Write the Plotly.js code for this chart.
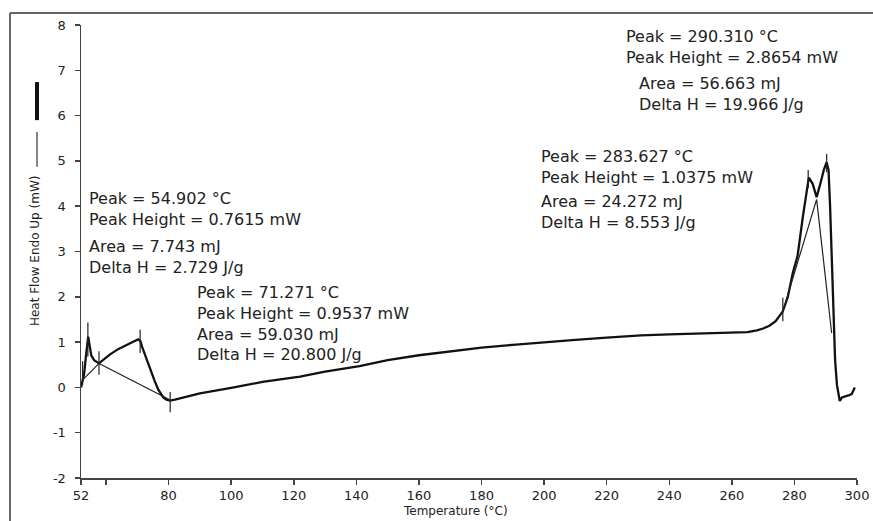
<!DOCTYPE html>
<html>
<head>
<meta charset="utf-8">
<script src="https://cdn.plot.ly/plotly-3.0.1.min.js"></script>
<style>
  html, body { margin: 0; padding: 0; background: #fff; }
  #chart { width: 873px; height: 521px; }
</style>
</head>
<body>
<div id="chart"></div>
<script>
// ---- DSC curve (Temperature °C vs Heat Flow mW) ----
const temperature = [
  52.0, 52.5, 53.0, 53.6, 54.0, 54.3, 54.7, 55.3, 56.2, 57.1, 57.75, 59.0, 61.3, 64.0, 66.7, 69.0, 70.3, 71.0,
  71.5, 72.8, 74.1, 75.5, 76.7, 77.6, 78.3, 79.3, 80.5, 82, 90, 100, 110, 122, 130, 141, 150, 160, 170,
  180, 190, 200, 210, 220, 231, 240, 250, 260, 265, 268, 270, 272, 274, 276.3, 277.9, 279.5, 281.0,
  282.7, 283.8, 284.6, 285.8, 287.1, 288.3, 289.4, 290.3, 290.9, 291.4, 291.9, 292.4, 293.0, 293.6,
  294.5, 295.2, 296.5, 297.5, 298.3, 299.0, 299.3
];
const heatFlow = [
  0.0, 0.15, 0.3, 0.7, 1.0, 1.12, 0.95, 0.7, 0.6, 0.55, 0.53, 0.6, 0.73, 0.85, 0.95, 1.02, 1.06, 1.02,
  0.9, 0.65, 0.4, 0.15, -0.05, -0.15, -0.22, -0.27, -0.29, -0.27, -0.13, -0.01, 0.12, 0.24, 0.35, 0.47, 0.6, 0.71, 0.8,
  0.88, 0.94, 1.0, 1.05, 1.1, 1.15, 1.17, 1.19, 1.2, 1.22, 1.26, 1.3, 1.36, 1.46, 1.68, 2.0, 2.53, 2.9,
  3.77, 4.3, 4.63, 4.5, 4.2, 4.5, 4.8, 4.97, 4.8, 4.0, 2.9, 1.6, 0.6, 0.05,
  -0.3, -0.22, -0.2, -0.17, -0.15, -0.05, 0.0
];

// ---- integration baselines ----
const baselineT = [52.3, 57.75, 80.5, null, 276.3, 287.1, 291.9];
const baselineHF = [0.15, 0.53, -0.28, null, 1.68, 4.15, 1.2];

// ---- integration limit / peak markers ----
const limitT = [52.5, 54.2, 57.75, 70.9, 80.5, 276.3, 284.4, 290.3];
const limitLow = [0.05, 0.68, 0.28, 0.76, -0.55, 1.46, 4.4, 4.75];
const limitHigh = [0.58, 1.43, 0.8, 1.27, -0.1, 1.98, 4.8, 5.15];

// ---- peak result texts ----
const peak1Text = ["Peak = 54.902 °C", "Peak Height = 0.7615 mW", "Area = 7.743 mJ", "Delta H = 2.729 J/g"];
const peak2Text = ["Peak = 71.271 °C", "Peak Height = 0.9537 mW", "Area = 59.030 mJ", "Delta H = 20.800 J/g"];
const peak3Text = ["Peak = 290.310 °C", "Peak Height = 2.8654 mW", "Area = 56.663 mJ", "Delta H = 19.966 J/g"];
const peak4Text = ["Peak = 283.627 °C", "Peak Height = 1.0375 mW", "Area = 24.272 mJ", "Delta H = 8.553 J/g"];

// ---- axis ticks ----
const xTickVals = [52, 60, 80, 100, 120, 140, 160, 180, 200, 220, 240, 260, 280, 300];
const xTickText = ["52", "", "80", "100", "120", "140", "160", "180", "200", "220", "240", "260", "280", "300"];
const yTickVals = [-2, -1, 0, 1, 2, 3, 4, 5, 6, 7, 8];
const yTickText = ["-2", "-1", "0", "1", "2", "3", "4", "5", "6", "7", "8"];

// build marker segments
const segX = [], segY = [];
limitT.forEach((t, i) => { segX.push(t, t, null); segY.push(limitLow[i], limitHigh[i], null); });

const traces = [
  { x: temperature, y: heatFlow, type: 'scatter', mode: 'lines',
    line: { color: '#111', width: 2.3 }, hoverinfo: 'skip' },
  { x: baselineT, y: baselineHF, type: 'scatter', mode: 'lines',
    line: { color: '#222', width: 1.2 }, connectgaps: false, hoverinfo: 'skip' },
  { x: segX, y: segY, type: 'scatter', mode: 'lines',
    line: { color: '#222', width: 1.2 }, connectgaps: false, hoverinfo: 'skip' }
];

const annFont = { family: 'DejaVu Sans, sans-serif', size: 16, color: '#222' };
function note(lines, x, y) {
  return {
    text: lines.join('<br>'), x: x, y: y, xref: 'x', yref: 'y', align: 'left',
    xanchor: 'left', yanchor: 'middle', showarrow: false, font: annFont, borderpad: 0
  };
}
const annotations = [
  note(peak1Text.slice(0, 2), 54.2, 3.93),
  note(peak1Text.slice(2, 4), 54.2, 2.88),
  note(peak2Text, 88.9, 1.42),
  note(peak3Text.slice(0, 2), 225.9, 7.52),
  note(peak3Text.slice(2, 4), 230.0, 6.48),
  note(peak4Text.slice(0, 2), 198.7, 4.87),
  note(peak4Text.slice(2, 4), 198.7, 3.88),
  { text: 'Temperature (°C)', xref: 'paper', yref: 'paper', x: 0.482, y: -0.072,
    xanchor: 'center', yanchor: 'middle', showarrow: false,
    font: { family: 'DejaVu Sans, sans-serif', size: 12, color: '#222' } },
  { text: 'Heat Flow Endo Up (mW)', xref: 'paper', yref: 'paper', x: -0.0593, y: 0.503,
    xanchor: 'center', yanchor: 'middle', textangle: -90, showarrow: false,
    font: { family: 'DejaVu Sans, sans-serif', size: 12, color: '#222' } }
];

const shapes = [
  // outer frame (left and top)
  { type: 'line', xref: 'paper', yref: 'paper', x0: -0.0915, x1: -0.0915, y0: -0.1, y1: 1.0265,
    line: { color: '#666', width: 2 } },
  { type: 'line', xref: 'paper', yref: 'paper', x0: -0.0915, x1: 1.03, y0: 1.0265, y1: 1.0265,
    line: { color: '#666', width: 2 } },
  // legend line symbols beside y title
  { type: 'line', xref: 'paper', yref: 'paper', x0: -0.0567, x1: -0.0567, y0: 0.790, y1: 0.874,
    line: { color: '#111', width: 4 } },
  { type: 'line', xref: 'paper', yref: 'paper', x0: -0.0567, x1: -0.0567, y0: 0.687, y1: 0.764,
    line: { color: '#333', width: 1.2 } }
];

const tickFont = { family: 'DejaVu Sans, sans-serif', size: 13, color: '#222' };
const layout = {
  width: 873, height: 521,
  margin: { l: 81, r: 16, t: 25, b: 43, pad: 0 },
  paper_bgcolor: '#fff', plot_bgcolor: '#fff',
  showlegend: false,
  xaxis: {
    range: [52, 300], showgrid: false, zeroline: false, showline: true,
    linecolor: '#444', linewidth: 1.5, ticks: 'outside', ticklen: 5, tickwidth: 1.5, tickcolor: '#444',
    tickmode: 'array', tickvals: xTickVals, ticktext: xTickText, tickfont: tickFont, fixedrange: true
  },
  yaxis: {
    range: [-2, 8], showgrid: false, zeroline: false, showline: true,
    linecolor: '#444', linewidth: 1.5, ticks: 'outside', ticklen: 5, tickwidth: 1.5, tickcolor: '#444',
    tickmode: 'array', tickvals: yTickVals, ticktext: yTickText, tickfont: tickFont,
    ticklabelstandoff: 6, fixedrange: true
  },
  annotations: annotations,
  shapes: shapes
};

Plotly.newPlot('chart', traces, layout, { staticPlot: true, displayModeBar: false });
</script>
</body>
</html>
